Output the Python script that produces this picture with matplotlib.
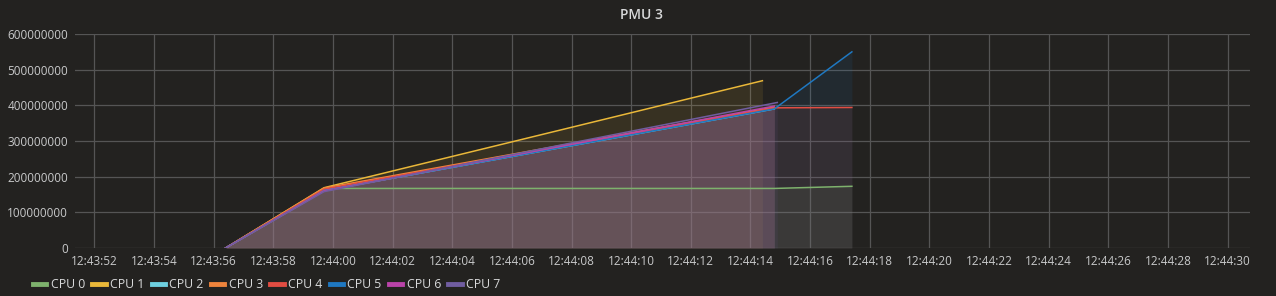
import matplotlib
matplotlib.use('Agg')
import matplotlib.pyplot as plt
import matplotlib.dates as mdates
import pandas as pd

plt.rcParams['font.family'] = ['Open Sans', 'DejaVu Sans']

# Grafana panel "PMU 3" - counter value per CPU
day = "2020-01-01 "
names = ["CPU 0", "CPU 1", "CPU 2", "CPU 3", "CPU 4", "CPU 5", "CPU 6", "CPU 7"]
colors = ["#7EB26D", "#EAB839", "#6ED0E0", "#EF843C", "#E24D42", "#1F78C1", "#BA43A9", "#705DA0"]

times = {
    "CPU 0": ["12:43:56.4", "12:43:59.7", "12:44:14.8", "12:44:17.4"],
    "CPU 1": ["12:43:56.4", "12:43:59.7", "12:44:14.4"],
    "CPU 2": ["12:43:56.4", "12:43:59.7", "12:44:14.8"],
    "CPU 3": ["12:43:56.4", "12:43:59.7", "12:44:14.8"],
    "CPU 4": ["12:43:56.4", "12:43:59.7", "12:44:14.8", "12:44:17.4"],
    "CPU 5": ["12:43:56.4", "12:43:59.7", "12:44:14.8", "12:44:17.4"],
    "CPU 6": ["12:43:56.4", "12:43:59.7", "12:44:14.8"],
    "CPU 7": ["12:43:56.4", "12:43:59.7", "12:44:14.9"],
}
values = {
    "CPU 0": [0, 167e6, 167e6, 173e6],
    "CPU 1": [0, 169e6, 469e6],
    "CPU 2": [0, 161e6, 390e6],
    "CPU 3": [0, 168e6, 395e6],
    "CPU 4": [0, 165e6, 393e6, 394e6],
    "CPU 5": [0, 161e6, 390e6, 550e6],
    "CPU 6": [0, 160e6, 398e6],
    "CPU 7": [0, 158e6, 408e6],
}

bg = "#232220"
fg = "#d8d9da"

fig = plt.figure(figsize=(12.76, 2.96), dpi=100, facecolor=bg)
ax = fig.add_axes([75 / 1276, 1 - 248 / 296, 1175 / 1276, 214 / 296])
ax.set_facecolor(bg)

for name, c in zip(names, colors):
    t = pd.to_datetime([day + s for s in times[name]])
    v = values[name]
    ax.fill_between(t, 0, v, color=c, alpha=0.1, linewidth=0)
    ax.plot(t, v, color=c, lw=1.1, label=name)

ax.set_xlim(pd.Timestamp(day + "12:43:51.35"), pd.Timestamp(day + "12:44:30.75"))
ax.set_ylim(0, 600e6)
ax.set_yticks(range(0, 600000001, 100000000))
ax.yaxis.set_major_formatter(matplotlib.ticker.FuncFormatter(lambda v, p: "%d" % v))
ax.xaxis.set_major_locator(mdates.SecondLocator(bysecond=range(0, 60, 2)))
ax.xaxis.set_major_formatter(mdates.DateFormatter("%H:%M:%S"))

for s in ax.spines.values():
    s.set_visible(False)
ax.grid(True, color="#555555", lw=0.9)
ax.set_axisbelow(True)
ax.tick_params(length=0, colors="#c8c9ca", labelsize=8.5, pad=5)

fig.text(641 / 1276, 1 - 15 / 296, "PMU 3", color=fg, fontsize=10, fontweight="semibold",
         ha="center", va="center")

leg = fig.legend(loc="center left", bbox_to_anchor=(33 / 1276, 1 - 285 / 296), ncol=8,
                 frameon=False, fontsize=8.8, handlelength=1.1, handletextpad=0.35,
                 columnspacing=0.6, borderaxespad=0, borderpad=0)
for h in leg.get_lines():
    h.set_linewidth(3.5)
for tx in leg.get_texts():
    tx.set_color(fg)

fig.savefig("out.png", dpi=100, facecolor=bg)
